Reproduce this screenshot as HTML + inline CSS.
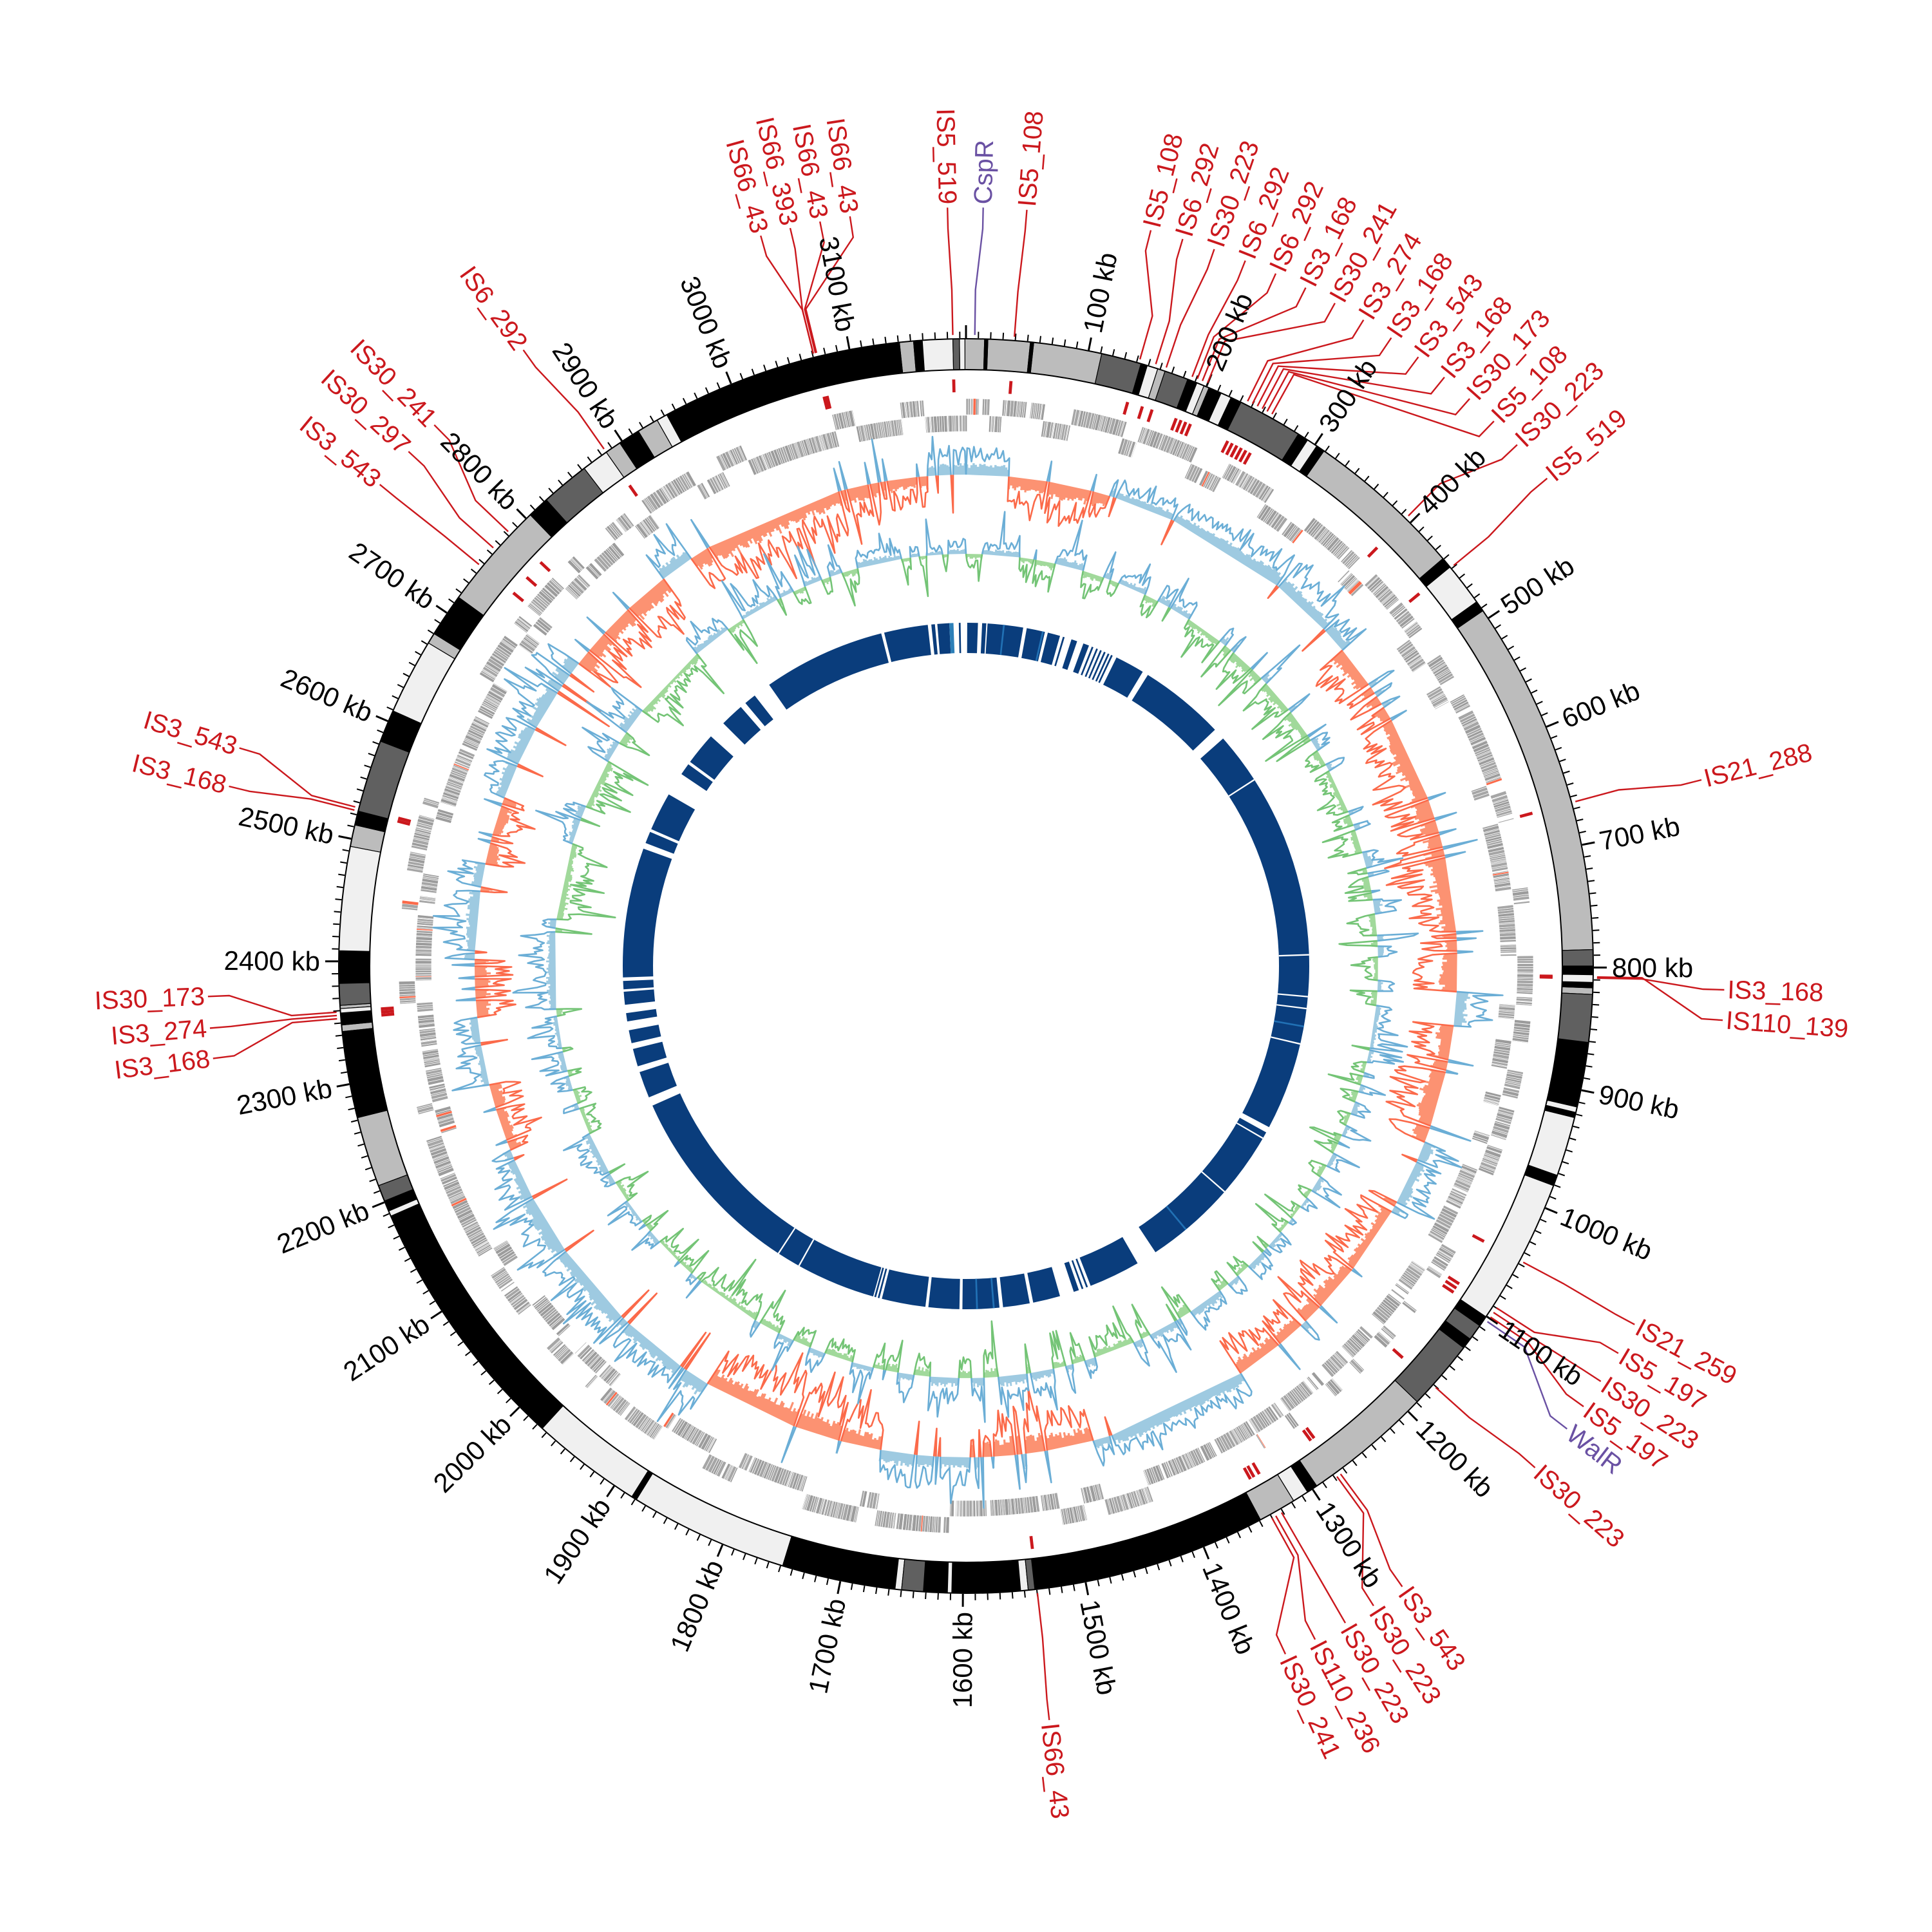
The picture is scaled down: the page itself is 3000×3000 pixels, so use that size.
<!DOCTYPE html>
<html><head><meta charset="utf-8">
<style>
html,body{margin:0;padding:0;background:#fff;}
svg{display:block;}
text{font-family:"Liberation Sans",sans-serif;dominant-baseline:central;}
.tk{font-size:42px;fill:#000;}
.is{font-size:40px;fill:#cb181d;}
.pu{fill:#6a51a3;}
</style></head>
<body>
<svg xmlns="http://www.w3.org/2000/svg" width="3000" height="3000" viewBox="0 0 3000 3000">
<rect width="3000" height="3000" fill="#fff"/>
<g transform="translate(1500,1500)">
<g id="g"></g>
<g id="labels">
<text class="tk">100 kb</text><text class="tk">200 kb</text><text class="tk">300 kb</text><text class="tk">400 kb</text>
<text class="tk">500 kb</text><text class="tk">600 kb</text><text class="tk">700 kb</text><text class="tk">800 kb</text>
<text class="tk">900 kb</text><text class="tk">1000 kb</text><text class="tk">1100 kb</text><text class="tk">1200 kb</text>
<text class="tk">1300 kb</text><text class="tk">1400 kb</text><text class="tk">1500 kb</text><text class="tk">1600 kb</text>
<text class="tk">1700 kb</text><text class="tk">1800 kb</text><text class="tk">1900 kb</text><text class="tk">2000 kb</text>
<text class="tk">2100 kb</text><text class="tk">2200 kb</text><text class="tk">2300 kb</text><text class="tk">2400 kb</text>
<text class="tk">2500 kb</text><text class="tk">2600 kb</text><text class="tk">2700 kb</text><text class="tk">2800 kb</text>
<text class="tk">2900 kb</text><text class="tk">3000 kb</text><text class="tk">3100 kb</text>

<text class="is">IS5_108</text>
<text class="is">IS6_292</text>
<text class="is">IS30_223</text>
<text class="is">IS6_292</text>
<text class="is">IS6_292</text>
<text class="is">IS3_168</text>
<text class="is">IS30_241</text>
<text class="is">IS3_274</text>
<text class="is">IS3_168</text>
<text class="is">IS3_543</text>
<text class="is">IS3_168</text>
<text class="is">IS30_173</text>
<text class="is">IS5_108</text>
<text class="is">IS30_223</text>
<text class="is">IS5_519</text>
<text class="is">IS21_288</text>
<text class="is">IS3_168</text>
<text class="is">IS110_139</text>
<text class="is">IS21_259</text>
<text class="is">IS5_197</text>
<text class="is">IS30_223</text>
<text class="is">IS5_197</text>
<text class="is pu">WalR</text>
<text class="is">IS30_223</text>
<text class="is">IS3_543</text>
<text class="is">IS30_223</text>
<text class="is">IS30_223</text>
<text class="is">IS110_236</text>
<text class="is">IS30_241</text>
<text class="is">IS66_43</text>
<text class="is">IS3_168</text>
<text class="is">IS3_274</text>
<text class="is">IS30_173</text>
<text class="is">IS3_168</text>
<text class="is">IS3_543</text>
<text class="is">IS3_543</text>
<text class="is">IS30_297</text>
<text class="is">IS30_241</text>
<text class="is">IS6_292</text>
<text class="is">IS66_43</text>
<text class="is">IS66_393</text>
<text class="is">IS66_43</text>
<text class="is">IS66_43</text>
<text class="is">IS5_519</text>
<text class="is pu">CspR</text>
<text class="is">IS5_108</text>
</g>
</g>
</svg>
<script>
(function(){
const NS='http://www.w3.org/2000/svg';
const G=document.getElementById('g');
function el(t,at,par){const e=document.createElementNS(NS,t);for(const q in at)e.setAttribute(q,at[q]);(par||G).appendChild(e);return e;}
function P(r,a){const t=a*Math.PI/180;return (r*Math.sin(t)).toFixed(1)+','+(-r*Math.cos(t)).toFixed(1);}
function wedge(r1,r2,a1,a2){const l=(a2-a1)>180?1:0;return 'M'+P(r2,a1)+'A'+r2+','+r2+' 0 '+l+' 1 '+P(r2,a2)+'L'+P(r1,a2)+'A'+r1+','+r1+' 0 '+l+' 0 '+P(r1,a1)+'Z';}
let s=987654;function rnd(){s|=0;s=s+0x6D2B79F5|0;let t=Math.imul(s^s>>>15,1|s);t=t+Math.imul(t^t>>>7,61|t)^t;return((t^t>>>14)>>>0)/4294967296;}
const K=360/3195;

/* genes: dense, strand runs */
let dA='',dB='',dR='';
let a=0,strand=1,run=0;
while(a<360){
  if(run<=0){strand=rnd()<0.5?1:0;run=2+Math.floor(rnd()*14);}run--;
  const len=0.05+rnd()*0.3;
  const w=strand?wedge(856,881,a,a+len):wedge(830,855,a,a+len);
  if(rnd()<0.01) dR+=w; else if(rnd()<0.5) dA+=w; else dB+=w;
  a+=len+(rnd()<0.06?rnd()*0.5:0.015);
}
el('path',{d:dA,fill:'#a6a6a6',stroke:'#fff','stroke-width':0.6});
el('path',{d:dB,fill:'#9c9c9c',stroke:'#fff','stroke-width':0.6});
el('path',{d:dR,fill:'#fb6a4a'});

function mkNoise(){const ph=[rnd()*6.28,rnd()*6.28,rnd()*6.28,rnd()*6.28];return function(x){const t=x*Math.PI/180;return 0.5+0.2*Math.sin(3*t+ph[0])+0.15*Math.sin(11*t+ph[1])+0.1*Math.sin(27*t+ph[2])+0.05*Math.sin(53*t+ph[3]);};}

function drawTrack(base,vals,step,cp,lp,cn,ln){
  let i=0;const n=vals.length;
  while(i<n){
    const sg=vals[i].f>=0?1:-1;let j=i;
    while(j<n&&((vals[j].f>=0?1:-1)===sg))j++;
    let pts=[];let lin=[P(base,i*step)];
    for(let q=i;q<j;q++){const aa=q*step;pts.push(P(base+vals[q].f,aa));pts.push(P(base+vals[q].f,aa+step));lin.push(P(base+vals[q].r,aa+step/2));}
    lin.push(P(base,j*step));
    pts.push(P(base,j*step));pts.push(P(base,i*step));
    el('polygon',{points:pts.join(' '),fill:sg>0?cp:cn});
    el('polyline',{points:lin.join(' '),fill:'none',stroke:sg>0?lp:ln,'stroke-width':2.6,'stroke-linejoin':'round'});
    i=j;
  }
}
const red=[[326,355.5],[5,17],[50,93],[97,111],[120,146],[165,178],[190,212],[248,256],[264,271],[282,290],[308,322]];
function isRed(x){for(const r of red){if(x>=r[0]&&x<r[1])return true;}return false;}
const step=0.25;const nb=Math.round(360/step);
let N1=mkNoise();let sk=[];
for(let i=0;i<nb;i++){
  const x=i*step;let sg=isRed(x)?-1:1;
  if(rnd()<0.06)sg=-sg;
  const m=(sg<0?22:14)+(sg<0?40:35)*N1(x);
  const f=sg*m*(0.35+rnd()*0.25);
  const r=sg*m*(0.5+rnd()*1.0)+sg*(rnd()<0.15?rnd()*35:0);
  sk.push({f:f,r:r});
}
drawTrack(763,sk,step,'#9ecae1','#6baed6','#fc9272','#fb6a4a');
let N2=mkNoise();let gc=[];let sg=1,left=0;
for(let i=0;i<nb;i++){
  if(left<=0){sg=rnd()<0.5?1:-1;left=1+Math.floor(rnd()*9);}left--;
  const m=8+22*N2(i*step);
  const f=sg*m*(0.3+rnd()*0.3);
  const r=sg*(m*(0.5+rnd()*1.0)+(rnd()<0.25?rnd()*rnd()*65:0));
  gc.push({f:f,r:r});
}
drawTrack(640,gc,step,'#9ecae1','#6baed6','#a1d99b','#74c476');

const segs=[[0.2,2.0],[2.7,3.4],[3.6,9.6],[10.2,13.3],[13.8,15.9],[16.4,16.7],[17.9,18.9],[20,21],[21.5,21.8],[22.3,22.6],[23,23.3],[23.7,24],[24.4,24.7],[25,25.3],[26,31],[32,46.5],[48.5,118],[119,146.5],[150,158.7],[159.2,159.5],[160,160.3],[160.8,161.7],[164.1,168.7],[169.3,173.8],[174.4,180.6],[181.1,186.3],[186.8,194.2],[194.6,194.9],[195.2,195.5],[195.7,246],[247.5,252],[253,256],[257,259.2],[260.7,262.1],[263.5,265.7],[266.1,267.5],[268.1,290],[291,293],[293.5,300],[304,306],[306.5,312],[315,319],[320,322],[325,345.7],[346.2,353.6],[354.2,354.8],[355.2,357.2],[358.8,359.1]];
let dI='';for(const g of segs)dI+=wedge(486,533,g[0],g[1]);
el('path',{d:dI,fill:'#0a3d7c'});
el('path',{d:wedge(486,533,357.2,357.9),fill:'#2c7fb8'});
for(const w of [57,95,97,103,118.5,120,209,213,88,131])el('path',{d:wedge(486,533,w,w+0.25),fill:'#fff'});
for(const w of [6.2,12.8,100,140,175.2,178])el('path',{d:wedge(486,533,w,w+0.3),fill:'#2171b5'});

const Kc='#000',D='#606060',L='#bcbcbc',W='#f0f0f0';
const bands=[[-6.1,-4.8,L],[-4.8,-4.0,Kc],[-4.0,-1.2,W],[-1.2,-0.6,D],[-0.6,-0.1,W],[-0.1,1.7,L],[1.7,2.0,Kc],[2.0,5.9,L],[5.9,6.2,Kc],[6.2,12.5,L],[12.5,16.2,D],[16.2,16.8,Kc],[16.8,17.8,W],[17.8,18.5,L],[18.5,20.7,D],[20.7,21.6,Kc],[21.6,22.3,W],[22.3,22.8,L],[22.8,24,Kc],[24,25,W],[25,26,Kc],[26,32,D],[32,33,Kc],[33,34,W],[34,34.8,Kc],[34.8,49.5,L],[49.5,50.5,Kc],[50.5,54.5,W],[54.5,55.5,Kc],[55.5,88.5,L],[88.5,90,D],[90,90.8,Kc],[90.8,91.5,W],[91.5,92,Kc],[92,92.6,L],[92.6,97,D],[97,103,Kc],[103,103.5,W],[103.5,104,Kc],[104,109.5,W],[109.5,110.5,Kc],[110.5,124,W],[124,125,Kc],[125,126.5,D],[126.5,127.5,Kc],[127.5,134,D],[134,146,L],[146,147,Kc],[147,148.5,W],[148.5,152,L],[152,173.7,Kc],[173.7,174.3,D],[174.3,175,W],[175,181.3,Kc],[181.3,181.7,W],[181.7,183.9,Kc],[183.9,185.9,D],[185.9,186.5,W],[186.5,197,Kc],[197,211.7,W],[211.7,212.2,Kc],[212.2,222.5,W],[222.5,246.5,Kc],[246.5,247,W],[247,248,Kc],[248,249.5,D],[249.5,256,L],[256,264,Kc],[264,264.6,L],[264.6,265.7,Kc],[265.7,266.1,W],[266.1,266.4,L],[266.4,268.4,D],[268.4,271.4,Kc],[271.4,281,W],[281,283,L],[283,284.3,Kc],[284.3,291,D],[291,294,Kc],[294,301,W],[301,302,L],[302,306,Kc],[306,316,L],[316,318,Kc],[318,322.5,D],[322.5,325,W],[325,326.5,L],[326.5,328.5,Kc],[328.5,330.5,L],[330.5,331.5,W],[331.5,353.9,Kc]];
el('path',{d:wedge(926,974,0,180)+wedge(926,974,180,360),fill:'#fff'});
let bd={};for(const b of bands){bd[b[2]]=(bd[b[2]]||'')+wedge(926,974,b[0],b[1]);}
for(const c in bd)el('path',{d:bd[c],fill:c,stroke:'#000','stroke-width':1.2});
el('circle',{r:974,fill:'none',stroke:'#000','stroke-width':2});
el('circle',{r:926,fill:'none',stroke:'#000','stroke-width':2});

let dt='',dT='';
for(let kb=0;kb<3195;kb+=10){const aa=kb*K;if(kb%100===0)dT+='M'+P(975,aa)+'L'+P(995,aa);else dt+='M'+P(975,aa)+'L'+P(985,aa);}
el('path',{d:dt,stroke:'#000','stroke-width':2,fill:'none'});
el('path',{d:dT,stroke:'#000','stroke-width':3,fill:'none'});

function place(t,aa,R){
  if(aa<180){t.setAttribute('transform','rotate('+(aa-90).toFixed(2)+') translate('+R+',0)');t.setAttribute('text-anchor','start');}
  else{t.setAttribute('transform','rotate('+(aa+90).toFixed(2)+') translate('+(-R)+',0)');t.setAttribute('text-anchor','end');}
}
document.querySelectorAll('.tk').forEach(t=>{place(t,parseInt(t.textContent)*K,1003);});

const LA=[[14.1,16],[16.6,17.5],[19.1,18.5],[21.6,21],[24.1,21.5],[26.6,22],[29.1,22.5],[31.6,26.5],[34.1,27],[36.6,27.5],[39.1,28],[41.6,28.5],[44.1,29],[46.6,44.5],[50,50.6],[75.8,74.9],[91.8,91.1],[94.1,91.0],[118.2,118],[120.7,122.8],[123.2,123.3],[125.5,123.8],[127.6,124.3],[131.4,131.9],[144.9,143.6],[147.5,144],[150,150],[152.6,150.6],[155.1,151],[173.7,173.5],[263,265.2],[265.3,265.5],[267.7,265.8],[283.7,284.3],[286.7,284.6],[309.4,309.5],[312.7,311.5],[315.5,313.5],[324.3,325],[344.3,346],[346.6,346],[348.9,346.2],[351.2,346.3],[358.6,358.8],[1.3,0.8],[4.6,4.4]];
const lg=document.createElementNS(NS,'g');G.appendChild(lg);
document.querySelectorAll('.is').forEach((t,i)=>{
  const v=LA[i];if(!v)return;
  const pu=t.classList.contains('pu');const col=pu?'#6a51a3':'#cb181d';
  place(t,v[0],1183);
  el('polyline',{points:[P(980,v[1]),P(1050,v[1]),P(1145,v[0]),P(1178,v[0])].join(' '),fill:'none',stroke:col,'stroke-width':2.4},lg);
  if(!pu)el('path',{d:wedge(891,911,v[1]-0.15,v[1]+0.15),fill:'#cb181d'},lg);
});
})();
</script>
</body></html>
